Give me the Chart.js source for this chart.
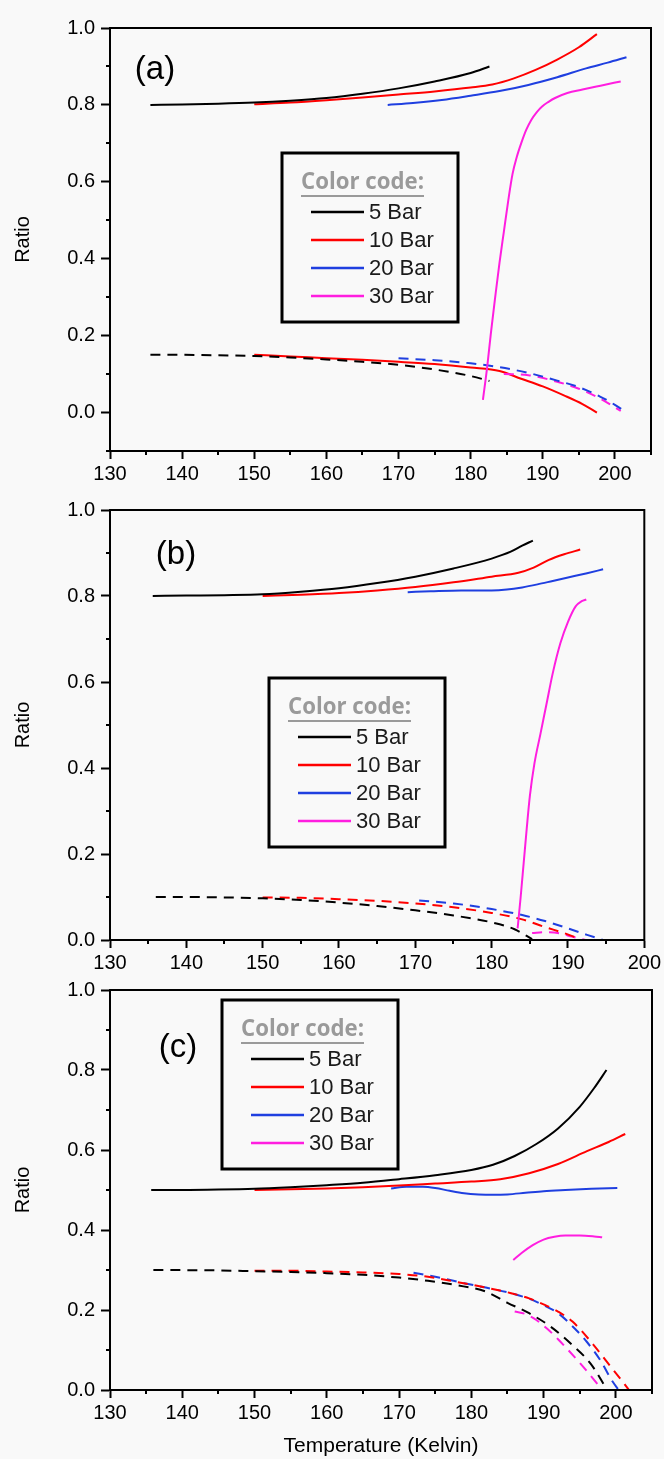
<!DOCTYPE html>
<html>
<head>
<meta charset="utf-8">
<script src="https://cdn.jsdelivr.net/npm/chart.js@4.4.0/dist/chart.umd.min.js"></script>
<style>
  html, body { margin: 0; padding: 0; background: #f9f9f9; }
  #wrap { position: relative; width: 664px; height: 1459px; }
  canvas { position: absolute; left: 0; }
</style>
</head>
<body>
<div id="wrap">
  <canvas id="panelA" width="664" height="490" style="top:0px"></canvas>
  <canvas id="panelB" width="664" height="480" style="top:490px"></canvas>
  <canvas id="panelC" width="664" height="489" style="top:970px"></canvas>
</div>
<script>
// legend
const seriesNames = ['5 Bar', '10 Bar', '20 Bar', '30 Bar'];
const seriesColors = ['#000000', '#ff0000', '#1f3fe0', '#ff1ee0'];

// panel (a) : upper curves
const a5UpT  = [135.6, 140, 145, 150, 155, 160, 165, 170, 175, 180, 182.6];
const a5UpR  = [0.800, 0.801, 0.803, 0.806, 0.811, 0.818, 0.829, 0.843, 0.861, 0.883, 0.900];
const a10UpT = [150, 155, 160, 165, 170, 175, 180, 183, 186, 189, 192, 195, 197.5];
const a10UpR = [0.802, 0.806, 0.812, 0.819, 0.827, 0.835, 0.845, 0.853, 0.869, 0.891, 0.918, 0.950, 0.984];
const a20UpT = [168.5, 172, 176, 180, 184, 188, 192, 196, 199, 201.6];
const a20UpR = [0.800, 0.805, 0.813, 0.824, 0.836, 0.852, 0.872, 0.895, 0.910, 0.924];
const a30UpT = [181.7, 182.3, 182.8, 183.4, 184.0, 184.6, 185.2, 185.8, 186.4, 187.0, 187.7, 188.4, 189.2, 189.9, 190.8, 191.7, 193.4, 195.5, 198, 200.8];
const a30UpR = [0.033, 0.12, 0.206, 0.30, 0.39, 0.47, 0.55, 0.62, 0.665, 0.70, 0.735, 0.761, 0.782, 0.796, 0.808, 0.818, 0.831, 0.840, 0.850, 0.861];
// panel (a) : lower curves
const a5LoT  = [135.6, 140, 145, 150, 155, 160, 165, 170, 175, 180, 182.6];
const a5LoR  = [0.150, 0.150, 0.149, 0.147, 0.143, 0.138, 0.132, 0.124, 0.112, 0.095, 0.082];
const a10LoT = [150, 155, 160, 165, 170, 175, 180, 184, 187, 190, 193, 195.5, 197.5];
const a10LoR = [0.150, 0.146, 0.141, 0.137, 0.132, 0.126, 0.117, 0.108, 0.088, 0.068, 0.044, 0.022, 0.0];
const a20LoT = [170, 175, 180, 184, 188, 192, 195, 198, 200, 201.6];
const a20LoR = [0.141, 0.136, 0.128, 0.118, 0.103, 0.083, 0.066, 0.041, 0.02, 0.0];
const a30LoT = [184.6, 188, 192, 195, 198, 200.8];
const a30LoR = [0.100, 0.097, 0.080, 0.062, 0.036, 0.004];

// panel (b)
const b5UpT  = [135.6, 140, 145, 150, 155, 160, 165, 170, 175, 180, 182.5, 184, 185.4];
const b5UpR  = [0.800, 0.801, 0.802, 0.804, 0.810, 0.818, 0.830, 0.845, 0.864, 0.887, 0.903, 0.917, 0.929];
const b10UpT = [150, 155, 160, 165, 170, 175, 180, 183.5, 185.5, 187.5, 189.5, 191.6];
const b10UpR = [0.800, 0.803, 0.807, 0.813, 0.821, 0.832, 0.845, 0.854, 0.866, 0.884, 0.897, 0.908];
const b20UpT = [169, 172, 176, 180, 182, 184, 186, 188, 190, 192.5, 194.6];
const b20UpR = [0.809, 0.811, 0.813, 0.813, 0.815, 0.820, 0.827, 0.835, 0.843, 0.853, 0.862];
const b30UpT = [183.4, 183.8, 184.2, 184.6, 185, 185.6, 186.4, 187.2, 188, 189, 190, 191, 191.8, 192.4];
const b30UpR = [0.027, 0.10, 0.18, 0.26, 0.334, 0.41, 0.48, 0.55, 0.62, 0.69, 0.74, 0.776, 0.788, 0.792];
const b5LoT  = [136, 140, 145, 150, 155, 160, 165, 170, 175, 180, 183, 185.3];
const b5LoR  = [0.100, 0.100, 0.099, 0.097, 0.093, 0.087, 0.079, 0.069, 0.057, 0.041, 0.025, 0.002];
const b10LoT = [150, 155, 160, 165, 170, 175, 180, 184, 187, 189.5, 191.6];
const b10LoR = [0.099, 0.098, 0.095, 0.091, 0.085, 0.076, 0.063, 0.048, 0.030, 0.016, 0.002];
const b20LoT = [170.5, 175, 180, 184, 187, 190, 192.5, 194.6];
const b20LoR = [0.092, 0.085, 0.072, 0.058, 0.044, 0.027, 0.012, 0.0];
const b30LoT = [185.3, 187, 189, 190.5, 192.3];
const b30LoR = [0.016, 0.018, 0.015, 0.008, 0.0];

// panel (c)
const c5UpT  = [135.7, 140, 145, 150, 155, 160, 165, 170, 175, 180, 183, 186, 189, 192, 195, 197, 198.7];
const c5UpR  = [0.500, 0.500, 0.501, 0.503, 0.507, 0.512, 0.518, 0.527, 0.537, 0.550, 0.563, 0.585, 0.615, 0.654, 0.708, 0.755, 0.800];
const c10UpT = [150, 155, 160, 165, 170, 175, 180, 184, 188, 192, 196, 199, 201.3];
const c10UpR = [0.500, 0.502, 0.504, 0.507, 0.511, 0.516, 0.521, 0.527, 0.542, 0.565, 0.597, 0.620, 0.640];
const c20UpT = [168.9, 171, 173.3, 175, 177, 179, 181, 183, 185, 187.5, 190, 193, 196.6, 200.2];
const c20UpR = [0.504, 0.508, 0.508, 0.505, 0.498, 0.492, 0.489, 0.488, 0.489, 0.493, 0.497, 0.500, 0.503, 0.505];
const c30UpT = [185.8, 187, 188.5, 190, 191.5, 193, 195, 197, 198.1];
const c30UpR = [0.325, 0.343, 0.362, 0.376, 0.383, 0.386, 0.386, 0.384, 0.382];
const c5LoT  = [136, 145, 150, 155, 160, 165, 170, 174, 178, 182, 185, 188, 191, 194, 196.5, 198.8];
const c5LoR  = [0.300, 0.299, 0.297, 0.295, 0.292, 0.288, 0.281, 0.273, 0.262, 0.246, 0.218, 0.192, 0.158, 0.112, 0.066, 0.0];
const c10LoT = [150, 155, 160, 165, 170, 174, 178, 182, 185.5, 188, 190, 192, 194, 196.9, 198.9, 201.1, 201.8];
const c10LoR = [0.298, 0.298, 0.296, 0.294, 0.290, 0.283, 0.270, 0.256, 0.242, 0.229, 0.214, 0.196, 0.171, 0.113, 0.067, 0.017, 0.0];
const c20LoT = [172, 175, 179, 182, 185.5, 188, 190, 192, 194.5, 196, 198, 199.4, 200.4];
const c20LoR = [0.293, 0.283, 0.267, 0.256, 0.242, 0.228, 0.212, 0.192, 0.150, 0.120, 0.070, 0.025, 0.0];
const c30LoT = [186, 187.5, 189, 190.5, 192, 193.5, 195, 196.5, 197.9];
const c30LoR = [0.196, 0.190, 0.175, 0.153, 0.127, 0.098, 0.068, 0.036, 0.005];

const FONT = '"Liberation Sans", Arial, sans-serif';

function line(ts, rs, color, dashed) {
  return {
    data: ts.map((t, i) => ({ x: t, y: rs[i] })),
    borderColor: color,
    borderWidth: 2,
    borderDash: dashed ? [10, 7] : [],
    pointRadius: 0,
    fill: false,
    cubicInterpolationMode: 'monotone'
  };
}

const isMajorX = v => v % 10 === 0;
const isMajorY = v => { const r = Math.round(v * 10); return r >= 0 && r % 2 === 0; };

// frame, minor ticks, panel letter and colour-code box
const panelDecor = {
  id: 'panelDecor',
  afterDraw(chart, args, opts) {
    const { ctx, chartArea: ca, scales } = chart;
    ctx.save();
    ctx.strokeStyle = '#000';
    ctx.lineWidth = 2;
    ctx.strokeRect(ca.left, ca.top, ca.right - ca.left, ca.bottom - ca.top);

    ctx.beginPath();
    scales.x.ticks.forEach(t => {
      if (isMajorX(t.value)) return;
      const px = Math.round(scales.x.getPixelForValue(t.value));
      ctx.moveTo(px, ca.bottom); ctx.lineTo(px, ca.bottom + 4);
    });
    scales.y.ticks.forEach(t => {
      if (isMajorY(t.value)) return;
      const py = Math.round(scales.y.getPixelForValue(t.value));
      ctx.moveTo(ca.left - 4, py); ctx.lineTo(ca.left, py);
    });
    ctx.stroke();

    // letter
    ctx.fillStyle = '#000';
    ctx.font = '33px ' + FONT;
    ctx.textAlign = 'center';
    ctx.textBaseline = 'middle';
    ctx.fillText(opts.letter, opts.letterX, opts.letterY);

    // colour code box
    const bx = opts.boxX, by = opts.boxY;
    ctx.lineWidth = 3;
    ctx.strokeRect(bx, by, 176, 169);
    ctx.textAlign = 'left';
    ctx.fillStyle = '#9a9a9a';
    ctx.font = 'bold 23px "Open Sans", sans-serif';
    const ccW = Math.min(123, ctx.measureText('Color code:').width);
    ctx.fillText('Color code:', bx + 19, by + 29, 123);
    ctx.strokeStyle = '#9a9a9a';
    ctx.lineWidth = 2;
    ctx.beginPath();
    ctx.moveTo(bx + 19, by + 43); ctx.lineTo(bx + 19 + ccW, by + 43);
    ctx.stroke();

    ctx.font = '22px ' + FONT;
    seriesNames.forEach((name, i) => {
      const y = by + 59 + 28 * i;
      ctx.strokeStyle = seriesColors[i];
      ctx.lineWidth = 2.5;
      ctx.beginPath();
      ctx.moveTo(bx + 29, y); ctx.lineTo(bx + 82, y);
      ctx.stroke();
      ctx.fillStyle = '#1a1a1a';
      ctx.fillText(name, bx + 87, y + 1);
    });
    ctx.restore();
  }
};

function makeChart(id, datasets, cfg) {
  new Chart(document.getElementById(id), {
    type: 'line',
    data: { datasets: datasets },
    plugins: [panelDecor],
    options: {
      responsive: false,
      animation: false,
      devicePixelRatio: 1,
      layout: { padding: { top: cfg.padTop, right: cfg.padRight, left: 0, bottom: 0 } },
      plugins: {
        legend: { display: false },
        tooltip: { enabled: false },
        panelDecor: cfg.decor
      },
      scales: {
        x: {
          type: 'linear',
          min: 130,
          max: cfg.xMax,
          afterFit: s => { s.height = cfg.xHeight; },
          ticks: {
            stepSize: 5, autoSkip: false, maxRotation: 0, padding: 3,
            color: '#000', font: { family: FONT, size: 20 },
            callback: v => isMajorX(v) ? String(v) : ''
          },
          grid: {
            drawOnChartArea: false, tickLength: 8, tickWidth: 2,
            tickColor: c => isMajorX(c.tick.value) ? '#000' : 'rgba(0,0,0,0)'
          },
          border: { color: '#000', width: 2 },
          title: {
            display: cfg.xTitle, text: 'Temperature (Kelvin)', color: '#000',
            font: { family: FONT, size: 21 }, padding: { top: 0, bottom: 0 }
          }
        },
        y: {
          min: cfg.yMin,
          max: 1.0,
          afterFit: s => { s.width = 110; },
          ticks: {
            stepSize: 0.1, autoSkip: false, padding: 6,
            color: '#000', font: { family: FONT, size: 20 },
            callback: v => isMajorY(v) ? (Math.round(v * 10) / 10).toFixed(1) : ''
          },
          grid: {
            drawOnChartArea: false, tickLength: 9, tickWidth: 2,
            tickColor: c => isMajorY(c.tick.value) ? '#000' : 'rgba(0,0,0,0)'
          },
          border: { color: '#000', width: 2 },
          title: {
            display: true, text: 'Ratio', color: '#000',
            font: { family: FONT, size: 20 }, padding: { top: 11, bottom: 0 }
          }
        }
      }
    }
  });
}

const [K, R, B, M] = seriesColors;

makeChart('panelA', [
  line(a5UpT, a5UpR, K, false), line(a10UpT, a10UpR, R, false),
  line(a20UpT, a20UpR, B, false), line(a30UpT, a30UpR, M, false),
  line(a5LoT, a5LoR, K, true), line(a20LoT, a20LoR, B, true),
  line(a30LoT, a30LoR, M, true), line(a10LoT, a10LoR, R, false)
], { xMax: 205, yMin: -0.1, padTop: 28, padRight: 13, xHeight: 39, xTitle: false,
     decor: { letter: '(a)', letterX: 155, letterY: 70, boxX: 282, boxY: 153 } });

makeChart('panelB', [
  line(b5UpT, b5UpR, K, false), line(b10UpT, b10UpR, R, false),
  line(b20UpT, b20UpR, B, false), line(b30UpT, b30UpR, M, false),
  line(b5LoT, b5LoR, K, true), line(b10LoT, b10LoR, R, true),
  line(b20LoT, b20LoR, B, true), line(b30LoT, b30LoR, M, true)
], { xMax: 200, yMin: 0, padTop: 20, padRight: 19, xHeight: 30, xTitle: false,
     decor: { letter: '(b)', letterX: 176, letterY: 65, boxX: 269, boxY: 188 } });

makeChart('panelC', [
  line(c5UpT, c5UpR, K, false), line(c10UpT, c10UpR, R, false),
  line(c20UpT, c20UpR, B, false), line(c30UpT, c30UpR, M, false),
  line(c5LoT, c5LoR, K, true), line(c10LoT, c10LoR, R, true),
  line(c20LoT, c20LoR, B, true), line(c30LoT, c30LoR, M, true)
], { xMax: 205, yMin: 0, padTop: 20, padRight: 12, xHeight: 69, xTitle: true,
     decor: { letter: '(c)', letterX: 178, letterY: 78, boxX: 222, boxY: 30 } });
</script>
</body>
</html>
